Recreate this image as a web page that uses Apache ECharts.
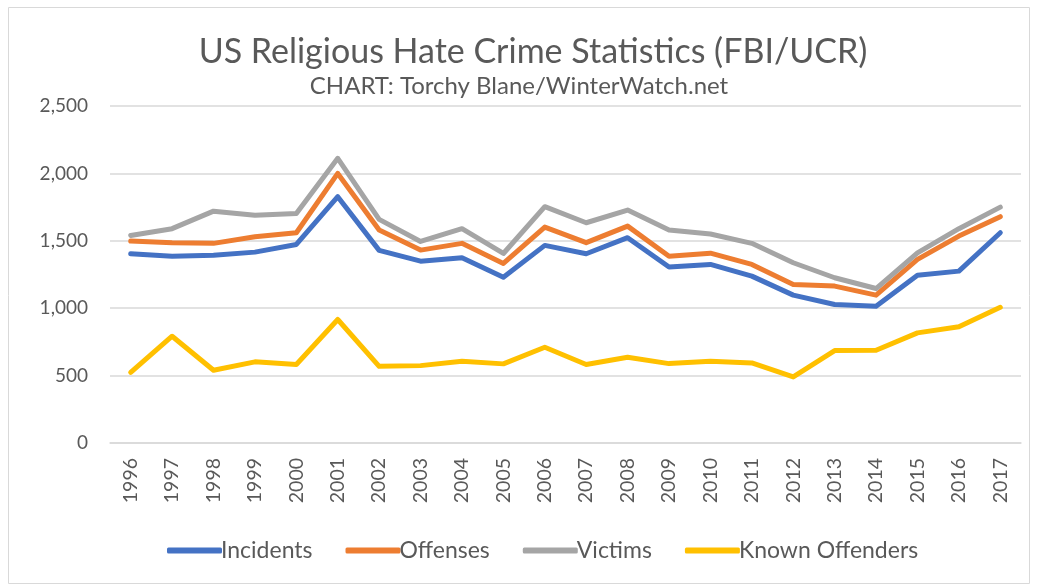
<!DOCTYPE html>
<html>
<head>
<meta charset="utf-8">
<script src="https://cdn.jsdelivr.net/npm/echarts@6/dist/echarts.min.js"></script>
<style>
html,body{margin:0;padding:0;background:#fff;}
#chart{width:1037px;height:586px;}
</style>
</head>
<body>
<div id="chart"></div>
<script>
// data
var years = ['1996','1997','1998','1999','2000','2001','2002','2003','2004','2005','2006',
  '2007','2008','2009','2010','2011','2012','2013','2014','2015','2016','2017'];
var incidents = [1404,1386,1392,1416,1473,1827,1429,1349,1374,1230,1466,1404,1523,1305,1325,1238,1097,1027,1015,1245,1275,1560];
var offenses = [1498,1486,1481,1530,1560,2000,1580,1431,1481,1332,1602,1486,1609,1386,1408,1325,1176,1164,1097,1362,1535,1679];
var victims = [1540,1590,1720,1689,1703,2112,1659,1495,1590,1406,1753,1634,1728,1580,1550,1481,1337,1226,1146,1411,1590,1750];
var knownOffenders = [524,792,540,602,582,916,569,574,606,587,710,582,636,589,606,594,490,686,688,817,862,1007];

var seriesNames = ['Incidents','Offenses','Victims','Known Offenders'];
var seriesData = [incidents, offenses, victims, knownOffenders];
var colors = ['#4472C4','#ED7D31','#A5A5A5','#FFC000'];

var font = 'Lato, "Open Sans", sans-serif';
var chart = echarts.init(document.getElementById('chart'));
chart.setOption({
  animation: false,
  color: colors,
  graphic: [{
    type: 'rect',
    shape: {x: 8.5, y: 7.5, width: 1021, height: 576},
    style: {fill: 'none', stroke: '#d9d9d9', lineWidth: 1}
  }, {
    // title and subtitle are not centred on the same x in the original
    type: 'text', x: 533, y: 35,
    style: {
      text: 'US Religious Hate Crime Statistics (FBI/UCR)',
      fontFamily: font, fontSize: 34, fill: '#595959',
      align: 'center', verticalAlign: 'top'
    }
  }, {
    type: 'text', x: 519, y: 74,
    style: {
      text: 'CHART: Torchy Blane/WinterWatch.net',
      fontFamily: font, fontSize: 24, fill: '#595959',
      align: 'center', verticalAlign: 'top'
    }
  }],
  legend: {
    top: 534,
    left: 162,
    itemWidth: 55,
    itemHeight: 6,
    itemGap: 33,
    icon: 'roundRect',
    textStyle: {fontFamily: font, fontSize: 23, color: '#595959', padding: [0,0,0,-6]},
    data: seriesNames
  },
  grid: {left: 110, right: 16, top: 106, bottom: 143},
  xAxis: {
    type: 'category',
    data: years,
    boundaryGap: true,
    axisLine: {lineStyle: {color: '#d9d9d9', width: 1.5}},
    axisTick: {show: false},
    axisLabel: {rotate: 90, color: '#595959', fontFamily: font, fontSize: 19.5, margin: 15, interval: 0}
  },
  yAxis: {
    type: 'value',
    min: 0,
    max: 2500,
    interval: 500,
    axisLine: {show: false},
    axisTick: {show: false},
    splitLine: {lineStyle: {color: '#d9d9d9', width: 1.5}},
    axisLabel: {
      color: '#595959', fontFamily: font, fontSize: 19, margin: 22,
      formatter: function (v) { return v.toLocaleString('en-US'); }
    }
  },
  series: seriesNames.map(function (name, i) {
    return {
      name: name,
      type: 'line',
      data: seriesData[i],
      symbol: 'none',
      lineStyle: {width: 5, cap: 'round', join: 'round'}
    };
  })
});
</script>
</body>
</html>
